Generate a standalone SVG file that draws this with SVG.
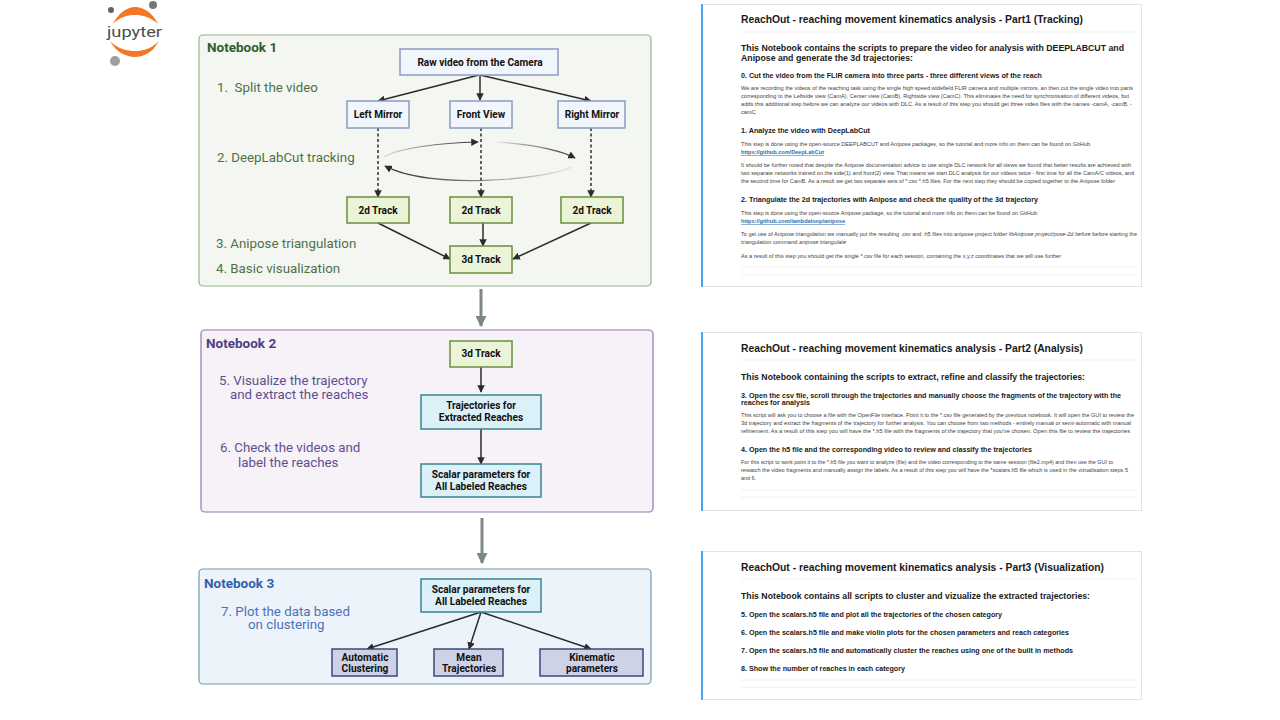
<svg xmlns="http://www.w3.org/2000/svg" width="1280" height="720" viewBox="0 0 1280 720">
<style>
text{font-family:Roboto,"Liberation Sans",sans-serif}
.panel{stroke-width:1.2}
.nb{font-size:13.5px;font-weight:700}
.step{font-size:13.3px}
.g1{fill:#4f7048}.g2{fill:#5f4f90}.g3{fill:#4a72b8}
.box{stroke-width:1.5}
.view{fill:#f1f5fc;stroke:#8a9cc4}
.trk{fill:#ecf4d8;stroke:#6a8f3c}
.res{fill:#dbf0f7;stroke:#3a8590}
.out{fill:#cdd2e6;stroke:#3d4a78}
.lbl{font-size:10.1px;font-weight:700;fill:#111;text-anchor:middle}
.con{fill:none;stroke:#2b2b2b;stroke-width:1.5}
.dash{stroke-dasharray:3 2.5}
.big{fill:none;stroke:#7f8689;stroke-width:3}
.card{fill:#fff;stroke:#e3e3e3;stroke-width:1}
.bar{fill:#42a5f5}
.rule{stroke:#f0f0f0;stroke-width:1}
.doc text{font-family:"Liberation Sans",Arial,sans-serif;fill:#1a1a1a}
.doc .t{font-size:11px;font-weight:700}
.doc .h{font-size:9.5px;font-weight:700}
.doc .s{font-size:7.2px;font-weight:700}
.doc .p{font-size:5.2px;fill:#444}
.doc .a{font-size:5.2px;font-weight:700;fill:#2c6cb0;text-decoration:underline}
</style>
<defs>
<marker id="ah" viewBox="0 0 10 10" refX="9" refY="5" markerWidth="7.5" markerHeight="7.5" markerUnits="userSpaceOnUse" orient="auto"><path d="M0 0L10 5L0 10Z" fill="#2b2b2b"/></marker>
<marker id="bh" viewBox="0 0 10 10" refX="9" refY="5" markerWidth="11" markerHeight="11" markerUnits="userSpaceOnUse" orient="auto"><path d="M0 0L10 5L0 10Z" fill="#7f8689"/></marker>
<linearGradient id="f1" gradientUnits="userSpaceOnUse" x1="384" y1="0" x2="478" y2="0"><stop offset="0" stop-color="#2b2b2b" stop-opacity=".15"/><stop offset="1" stop-color="#2b2b2b"/></linearGradient>
<linearGradient id="f2" gradientUnits="userSpaceOnUse" x1="497" y1="0" x2="575" y2="0"><stop offset="0" stop-color="#2b2b2b" stop-opacity=".1"/><stop offset="1" stop-color="#2b2b2b"/></linearGradient>
<linearGradient id="f3" gradientUnits="userSpaceOnUse" x1="572" y1="0" x2="385" y2="0"><stop offset="0" stop-color="#2b2b2b" stop-opacity=".1"/><stop offset="1" stop-color="#2b2b2b"/></linearGradient>
</defs>
<rect width="1280" height="720" fill="#fff"/>

<g id="jupyter-logo">
<path d="M113 24C119 12 128 7 135 7C143 7 152 12 158 24C150 17 143 15 135 15C127 15 120 17 113 24Z" fill="#f37726"/>
<path d="M110 41C118 49 127 51 135 51C143 51 151 49 159 41C153 52 144 57 135 57C126 57 116 52 110 41Z" fill="#f37726"/>
<circle cx="153" cy="5" r="4" fill="#767677"/><circle cx="111" cy="10" r="3" fill="#616262"/><circle cx="115" cy="61" r="5" fill="#9e9e9e"/>
<text x="107" y="37" font-size="15" fill="#4e4e4e" textLength="55" lengthAdjust="spacingAndGlyphs">jupyter</text>
</g>

<g id="notebook-1">
<rect class="panel" x="199" y="35" width="452" height="251" rx="4" fill="#f4f7f1" stroke="#93b58a"/>
<text class="nb" x="207" y="52" fill="#2e5c2e">Notebook 1</text>
<text class="step g1" x="217" y="92" xml:space="preserve">1.  Split the video</text>
<text class="step g1" x="217" y="162">2. DeepLabCut tracking</text>
<text class="step g1" x="216" y="248">3. Anipose triangulation</text>
<text class="step g1" x="216" y="273">4. Basic visualization</text>
</g>
<g id="notebook-2">
<rect class="panel" x="201" y="330" width="452" height="182" rx="4" fill="#f6f2f8" stroke="#8f77ac"/>
<text class="nb" x="206" y="348" fill="#4f3d82">Notebook 2</text>
<text class="step g2" x="219" y="385">5. Visualize the trajectory</text>
<text class="step g2" x="230" y="399">and extract the reaches</text>
<text class="step g2" x="220" y="452">6. Check the videos and</text>
<text class="step g2" x="238" y="467">label the reaches</text>
</g>
<g id="notebook-3">
<rect class="panel" x="199" y="569" width="452" height="115" rx="4" fill="#edf3fb" stroke="#6fa0ac"/>
<text class="nb" x="204" y="588" fill="#2f62ab">Notebook 3</text>
<text class="step g3" x="221" y="615.5">7. Plot the data based</text>
<text class="step g3" x="248" y="629">on clustering</text>
</g>

<g id="connectors">
<path class="con" marker-end="url(#ah)" d="M479 75L378 101"/>
<path class="con" marker-end="url(#ah)" d="M480 75V100"/>
<path class="con" marker-end="url(#ah)" d="M480 75L591 101"/>
<path class="con dash" marker-end="url(#ah)" d="M378 128V197"/>
<path class="con dash" marker-end="url(#ah)" d="M481 128V197"/>
<path class="con dash" marker-end="url(#ah)" d="M591 128V197"/>
<path fill="none" stroke="url(#f1)" stroke-width="1.2" marker-end="url(#ah)" d="M384 157C398 148 440 143 478 142"/>
<path fill="none" stroke="url(#f2)" stroke-width="1.2" marker-end="url(#ah)" d="M497 142C525 144 558 149 575 158"/>
<path fill="none" stroke="url(#f3)" stroke-width="1.2" marker-end="url(#ah)" d="M572 167C545 180 430 190 385 166"/>
<path class="con" marker-end="url(#ah)" d="M378 223L450 259"/>
<path class="con" marker-end="url(#ah)" d="M483 223V246"/>
<path class="con" marker-end="url(#ah)" d="M591 223L513 259"/>
<path class="big" marker-end="url(#bh)" d="M481 289V326"/>
<path class="con" marker-end="url(#ah)" d="M481 367V392"/>
<path class="con" marker-end="url(#ah)" d="M481 429V464"/>
<path class="big" marker-end="url(#bh)" d="M482 518V563"/>
<path class="con" marker-end="url(#ah)" d="M481 612L367 649"/>
<path class="con" marker-end="url(#ah)" d="M481 612L469 649"/>
<path class="con" marker-end="url(#ah)" d="M481 612L591 649"/>
</g>

<g id="raw-video"><rect class="box view" x="400" y="49" width="158" height="26"/><text class="lbl" x="480" y="66">Raw video from the Camera</text></g>
<g id="left-mirror"><rect class="box view" x="347" y="101" width="62" height="27"/><text class="lbl" x="378" y="118">Left Mirror</text></g>
<g id="front-view"><rect class="box view" x="450" y="101" width="62" height="27"/><text class="lbl" x="481" y="118">Front View</text></g>
<g id="right-mirror"><rect class="box view" x="558" y="101" width="67" height="27"/><text class="lbl" x="592" y="118">Right Mirror</text></g>
<g id="track-2d-left"><rect class="box trk" x="347" y="197" width="62" height="26"/><text class="lbl" x="378" y="214">2d Track</text></g>
<g id="track-2d-front"><rect class="box trk" x="450" y="197" width="62" height="26"/><text class="lbl" x="481" y="214">2d Track</text></g>
<g id="track-2d-right"><rect class="box trk" x="561" y="197" width="62" height="26"/><text class="lbl" x="592" y="214">2d Track</text></g>
<g id="track-3d"><rect class="box trk" x="450" y="246" width="62" height="27"/><text class="lbl" x="481" y="263">3d Track</text></g>
<g id="track-3d-nb2"><rect class="box trk" x="450" y="341" width="62" height="26"/><text class="lbl" x="481" y="357">3d Track</text></g>
<g id="trajectories"><rect class="box res" x="421" y="395" width="120" height="34"/><text class="lbl" x="481" y="409">Trajectories for</text><text class="lbl" x="481" y="421">Extracted Reaches</text></g>
<g id="scalar-nb2"><rect class="box res" x="421" y="464" width="120" height="33"/><text class="lbl" x="481" y="478">Scalar parameters for</text><text class="lbl" x="481" y="490">All Labeled Reaches</text></g>
<g id="scalar-nb3"><rect class="box res" x="421" y="579" width="120" height="33"/><text class="lbl" x="481" y="593">Scalar parameters for</text><text class="lbl" x="481" y="605">All Labeled Reaches</text></g>
<g id="auto-clustering"><rect class="box out" x="332" y="649" width="65" height="27"/><text class="lbl" x="365" y="660.5">Automatic</text><text class="lbl" x="365" y="672">Clustering</text></g>
<g id="mean-trajectories"><rect class="box out" x="434" y="649" width="69" height="27"/><text class="lbl" x="469" y="660.5">Mean</text><text class="lbl" x="469" y="672">Trajectories</text></g>
<g id="kinematic"><rect class="box out" x="540" y="649" width="103" height="27"/><text class="lbl" x="592" y="660.5">Kinematic</text><text class="lbl" x="592" y="672">parameters</text></g>

<g id="card-1" class="doc">
<rect class="card" x="701.5" y="4.5" width="440" height="282"/><rect class="bar" x="701" y="4" width="2" height="283"/>
<text class="t" x="741" y="23" textLength="342" lengthAdjust="spacingAndGlyphs">ReachOut - reaching movement kinematics analysis - Part1 (Tracking)</text>
<line class="rule" x1="741" y1="32" x2="1137" y2="32"/>
<text class="h" x="741" y="51" textLength="383" lengthAdjust="spacingAndGlyphs">This Notebook contains the scripts to prepare the video for analysis with DEEPLABCUT and</text>
<text class="h" x="741" y="61" textLength="172" lengthAdjust="spacingAndGlyphs">Anipose and generate the 3d trajectories:</text>
<text class="s" x="741" y="78" textLength="301" lengthAdjust="spacingAndGlyphs">0. Cut the video from the FLIR camera into three parts - three different views of the reach</text>
<text class="p" x="741" y="90" textLength="392" lengthAdjust="spacingAndGlyphs">We are recording the videos of the reaching task using the single high speed widefield FLIR camera and multiple mirrors, an then cut the single video into parts</text>
<text class="p" x="741" y="98" textLength="388" lengthAdjust="spacingAndGlyphs">corresponding to the Leftside view (CamA), Center view (CamB), Rightside view (CamC). This eliminates the need for synchronisation of different videos, but</text>
<text class="p" x="741" y="106" textLength="391" lengthAdjust="spacingAndGlyphs">adds this additional step before we can analyze our videos with DLC. As a result of this step you should get three video files with the names -camA, -camB, -</text>
<text class="p" x="741" y="114" textLength="15" lengthAdjust="spacingAndGlyphs">camC</text>
<text class="s" x="741" y="133" textLength="129" lengthAdjust="spacingAndGlyphs">1. Analyze the video with DeepLabCut</text>
<text class="p" x="741" y="146" textLength="349" lengthAdjust="spacingAndGlyphs">This step is done using the open-source DEEPLABCUT and Anipose packages, so the tutorial and more info on them can be found on GitHub</text>
<text class="a" x="741" y="154" textLength="83" lengthAdjust="spacingAndGlyphs">https://github.com/DeepLabCut</text>
<text class="p" x="741" y="167" textLength="390" lengthAdjust="spacingAndGlyphs">It should be further noted that despite the Anipose documentation advice to use single DLC network for all views we found that better results are achieved with</text>
<text class="p" x="741" y="175" textLength="393" lengthAdjust="spacingAndGlyphs">two separate networks trained on the side(1) and front(2) view. That means we start DLC analysis for our videos twice - first time for all the CamA/C videos, and</text>
<text class="p" x="741" y="183" textLength="374" lengthAdjust="spacingAndGlyphs">the second time for CamB. As a result we get two separate sets of *.csv *.h5 files. For the next step they should be copied together to the Anipose folder</text>
<text class="s" x="741" y="202" textLength="297" lengthAdjust="spacingAndGlyphs">2. Triangulate the 2d trajectories with Anipose and check the quality of the 3d trajectory</text>
<text class="p" x="741" y="215" textLength="296" lengthAdjust="spacingAndGlyphs">This step is done using the open-source Anipose package, so the tutorial and more info on them can be found on GitHub</text>
<text class="a" x="741" y="223" textLength="104" lengthAdjust="spacingAndGlyphs">https://github.com/lambdaloop/anipose</text>
<text class="p" x="741" y="236" textLength="396" lengthAdjust="spacingAndGlyphs">To get use of Anipose triangulation we manually put the resulting .csv and .h5 files into anipose project folder <tspan font-style="italic">%Anipose project/pose-2d before</tspan> before starting the</text>
<text class="p" x="741" y="244" textLength="105" lengthAdjust="spacingAndGlyphs">triangulation command <tspan font-style="italic">anipose triangulate</tspan></text>
<text class="p" x="741" y="258" textLength="320" lengthAdjust="spacingAndGlyphs">As a result of this step you should get the single *.csv file for each session, containing the x,y,z coordinates that we will use further</text>
<line class="rule" x1="741" y1="267" x2="1137" y2="267"/><line class="rule" x1="741" y1="275" x2="1137" y2="275"/>
</g>

<g id="card-2" class="doc">
<rect class="card" x="701.5" y="332.5" width="440" height="178"/><rect class="bar" x="701" y="332" width="2" height="179"/>
<text class="t" x="741" y="352" textLength="342" lengthAdjust="spacingAndGlyphs">ReachOut - reaching movement kinematics analysis - Part2 (Analysis)</text>
<line class="rule" x1="741" y1="360" x2="1137" y2="360"/>
<text class="h" x="741" y="380" textLength="344" lengthAdjust="spacingAndGlyphs">This Notebook containing the scripts to extract, refine and classify the trajectories:</text>
<text class="s" x="741" y="398" textLength="380" lengthAdjust="spacingAndGlyphs">3. Open the csv file, scroll through the trajectories and manually choose the fragments of the trajectory with the</text>
<text class="s" x="741" y="405" textLength="69" lengthAdjust="spacingAndGlyphs">reaches for analysis</text>
<text class="p" x="741" y="417" textLength="393" lengthAdjust="spacingAndGlyphs">This script will ask you to choose a file with the OpenFile interface. Point it to the *.csv file generated by the previous notebook. It will open the GUI to review the</text>
<text class="p" x="741" y="425" textLength="390" lengthAdjust="spacingAndGlyphs">3d trajectory and extract the fragments of the trajectory for further analysis. You can choose from two methods - entirely manual or semi-automatic with manual</text>
<text class="p" x="741" y="433" textLength="389" lengthAdjust="spacingAndGlyphs">refinement. As a result of this step you will have the *.h5 file with the fragments of the trajectory that you've chosen. Open this file to review the trajectories</text>
<text class="s" x="741" y="452" textLength="291" lengthAdjust="spacingAndGlyphs">4. Open the h5 file and the corresponding video to review and classify the trajectories</text>
<text class="p" x="741" y="464" textLength="372" lengthAdjust="spacingAndGlyphs">For this script to work point it to the *.h5 file you want to analyze (file) and the video corresponding to the same session (file2.mp4) and then use the GUI to</text>
<text class="p" x="741" y="472" textLength="387" lengthAdjust="spacingAndGlyphs">rewatch the video fragments and manually assign the labels. As a result of this step you will have the *scalars.h5 file which is used in the vizualisation steps 5</text>
<text class="p" x="741" y="480" textLength="15" lengthAdjust="spacingAndGlyphs">and 6.</text>
<line class="rule" x1="741" y1="490" x2="1137" y2="490"/><line class="rule" x1="741" y1="497" x2="1137" y2="497"/>
</g>

<g id="card-3" class="doc">
<rect class="card" x="701.5" y="551.5" width="440" height="148"/><rect class="bar" x="701" y="551" width="2" height="149"/>
<text class="t" x="741" y="571" textLength="363" lengthAdjust="spacingAndGlyphs">ReachOut - reaching movement kinematics analysis - Part3 (Visualization)</text>
<line class="rule" x1="741" y1="579" x2="1137" y2="579"/>
<text class="h" x="741" y="599" textLength="349" lengthAdjust="spacingAndGlyphs">This Notebook contains all scripts to cluster and vizualize the extracted trajectories:</text>
<text class="s" x="741" y="617" textLength="261" lengthAdjust="spacingAndGlyphs">5. Open the scalars.h5 file and plot all the trajectories of the chosen category</text>
<text class="s" x="741" y="635" textLength="328" lengthAdjust="spacingAndGlyphs">6. Open the scalars.h5 file and make violin plots for the chosen parameters and reach categories</text>
<text class="s" x="741" y="653" textLength="332" lengthAdjust="spacingAndGlyphs">7. Open the scalars.h5 file and automatically cluster the reaches using one of the built in methods</text>
<text class="s" x="741" y="671" textLength="164" lengthAdjust="spacingAndGlyphs">8. Show the number of reaches in each category</text>
<line class="rule" x1="741" y1="680" x2="1137" y2="680"/><line class="rule" x1="741" y1="687" x2="1137" y2="687"/>
</g>
</svg>
